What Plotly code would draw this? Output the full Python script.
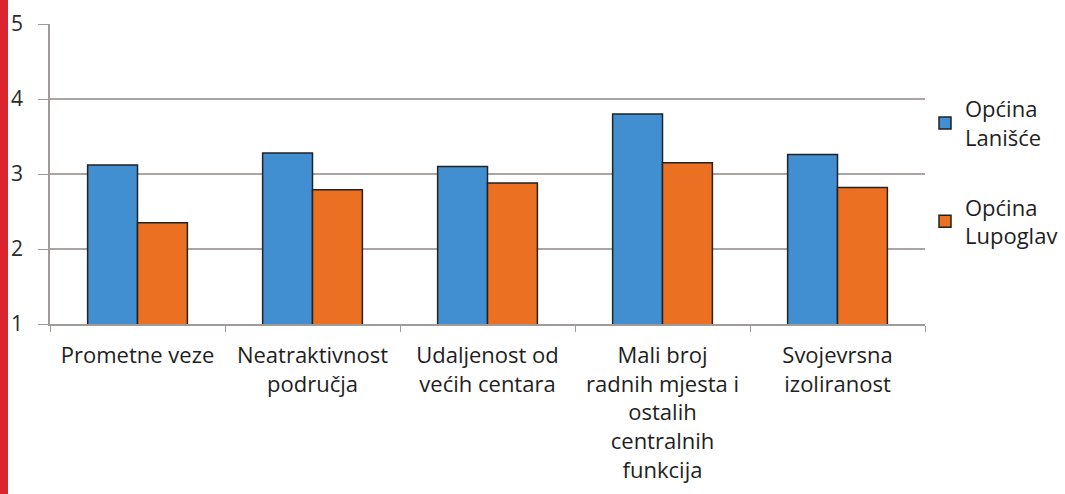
import plotly.graph_objects as go

categories = [
    "Prometne veze",
    "Neatraktivnost<br>područja",
    "Udaljenost od<br>većih centara",
    "Mali broj<br>radnih mjesta i<br>ostalih<br>centralnih<br>funkcija",
    "Svojevrsna<br>izoliranost",
]
lanisce = [3.12, 3.28, 3.10, 3.80, 3.26]
lupoglav = [2.35, 2.79, 2.88, 3.15, 2.82]
series_names = ["Općina<br>Lanišće", "Općina<br>Lupoglav"]
y_ticks = [1, 2, 3, 4, 5]

W, H = 1065, 494
ML, MR, MT, MB = 50, 140, 24, 170
PW = W - ML - MR
PH = H - MT - MB

font_family = "Open Sans, Noto Sans, sans-serif"

fig = go.Figure()
fig.add_trace(go.Bar(
    x=categories, y=lanisce, name=series_names[0], legendgroup="a",
    marker=dict(color="#418fd0", line=dict(color="#222222", width=1.5)),
))
fig.add_trace(go.Bar(
    x=categories, y=lupoglav, name=series_names[1], legendgroup="b",
    marker=dict(color="#ec7022", line=dict(color="#222222", width=1.5)),
))

fig.update_layout(
    width=W, height=H,
    margin=dict(l=ML, r=MR, t=MT, b=MB, autoexpand=False),
    paper_bgcolor="white", plot_bgcolor="white",
    barmode="group", bargap=0.43, bargroupgap=0,
    font=dict(family=font_family, size=22, color="#1e1e1e"),
    showlegend=True,
    legend=dict(
        x=1.0, xanchor="left", y=1 - (88 - MT) / PH, yanchor="top",
        font=dict(size=22, color="#1e1e1e"),
        tracegroupgap=38, itemwidth=30,
        bgcolor="rgba(0,0,0,0)",
    ),
    shapes=[dict(
        type="rect", xref="paper", yref="paper",
        x0=-ML / PW, x1=(8 - ML) / PW,
        y0=-MB / PH, y1=1 + MT / PH,
        fillcolor="#dc2430", line=dict(width=0), layer="above",
    )],
)

fig.update_yaxes(
    range=[1, 5], tickvals=y_ticks, ticks="outside", ticklen=10,
    tickcolor="#a09a98", showgrid=True, gridcolor="#aaa5a3", gridwidth=1.5,
    showline=True, linecolor="#a09a98", linewidth=1.5,
    tickfont=dict(size=21, color="#2a2a2a"), ticklabelstandoff=11,
    zeroline=False, fixedrange=True,
)
fig.update_xaxes(
    ticks="outside", tickson="boundaries", ticklen=6, tickcolor="#a09a98",
    showline=True, linecolor="#a09a98", linewidth=1.5,
    tickfont=dict(size=22, color="#1e1e1e"), tickangle=0,
    ticklabelstandoff=11, fixedrange=True,
)

fig.write_html(
    "out.html",
    config={"displayModeBar": False},
    post_script="document.body.style.margin='0';document.body.style.overflow='hidden';",
)
